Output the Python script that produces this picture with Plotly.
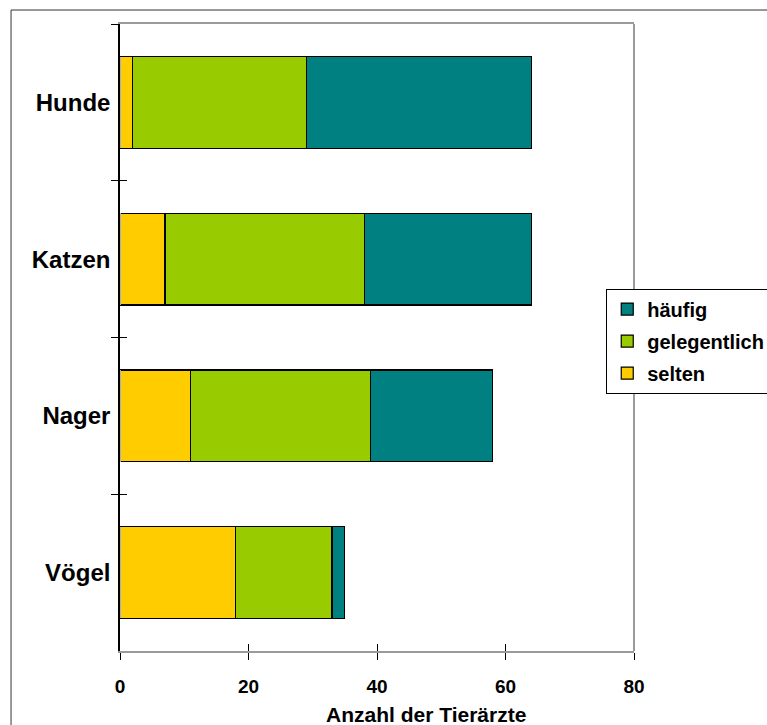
import plotly.graph_objects as go

# Tierarten und Häufigkeit der Behandlung
tierarten = ["Hunde", "Katzen", "Nager", "Vögel"]
selten = [2, 7, 11, 18]
gelegentlich = [27, 31, 28, 15]
haeufig = [35, 26, 19, 2]
x_ticks = [0, 20, 40, 60, 80]

FONT = "Liberation Sans, Arial, sans-serif"
outline = dict(color="black", width=1.2)

fig = go.Figure()
for name, vals, color, rank in [
    ("selten", selten, "#FFCC00", 3),
    ("gelegentlich", gelegentlich, "#99CC00", 2),
    ("häufig", haeufig, "#008080", 1),
]:
    fig.add_trace(go.Bar(
        y=tierarten, x=vals, name=f"<b>{name}</b>", orientation="h",
        marker=dict(color=color, line=outline),
        legendgroup=name, legendrank=rank,
    ))

# empty helper trace carrying the overlaid axes that draw the inner tick halves
fig.add_trace(go.Bar(
    y=tierarten, x=[0] * len(tierarten), orientation="h",
    xaxis="x2", yaxis="y2", showlegend=False, hoverinfo="skip",
    marker=dict(color="rgba(0,0,0,0)"),
))

fig.update_layout(
    width=767, height=725,
    margin=dict(l=120, r=133, t=24, b=74, autoexpand=False),
    paper_bgcolor="white", plot_bgcolor="white",
    barmode="stack", bargap=0.415,
    font=dict(family=FONT, color="black"),
    xaxis=dict(
        range=[0, 80], tickvals=x_ticks, showgrid=False, zeroline=False,
        showline=True, linecolor="#9a9a9a", linewidth=2, mirror=True,
        ticks="outside", ticklen=7, tickcolor="black", tickwidth=1,
        tickfont=dict(size=19, weight="bold"),
        ticklabelstandoff=10,
    ),
    yaxis=dict(
        categoryorder="array", categoryarray=tierarten, autorange="reversed",
        showgrid=False, zeroline=False,
        showline=True, linecolor="black", linewidth=1.5,
        ticks="outside", tickson="boundaries", ticklen=7,
        tickcolor="black", tickwidth=1,
        tickfont=dict(size=24, weight="bold"),
        ticklabelstandoff=3,
    ),
    xaxis2=dict(
        overlaying="x", matches="x", anchor="y2", showgrid=False,
        zeroline=False, showline=False, tickvals=x_ticks,
        ticks="inside", ticklen=7, tickcolor="black", tickwidth=1,
        showticklabels=False,
    ),
    yaxis2=dict(
        overlaying="y", matches="y", anchor="x2", showgrid=False,
        zeroline=False, showline=False,
        ticks="inside", tickson="boundaries", ticklen=7,
        tickcolor="black", tickwidth=1, showticklabels=False,
    ),
    legend=dict(
        x=0.946, y=0.578, xanchor="left", yanchor="top",
        bordercolor="black", borderwidth=1, bgcolor="white",
        traceorder="grouped", tracegroupgap=3,
        font=dict(size=20, weight="bold"),
    ),
    showlegend=True,
)

# right edge of the plot frame
fig.add_shape(type="line", xref="paper", yref="paper",
              x0=1, x1=1, y0=0, y1=1,
              line=dict(color="#9a9a9a", width=2), layer="below")

# outer chart border
fig.add_shape(type="rect", xref="paper", yref="paper",
              x0=-0.212, x1=1.5, y0=-0.2, y1=1.0223,
              line=dict(color="#333333", width=1), layer="below")

fig.add_annotation(
    text="<b>Anzahl der Tierärzte</b>", xref="paper", yref="paper",
    x=0.595, y=-0.1005, xanchor="center", yanchor="middle",
    showarrow=False, font=dict(size=21),
)

fig.write_html("out.html")
